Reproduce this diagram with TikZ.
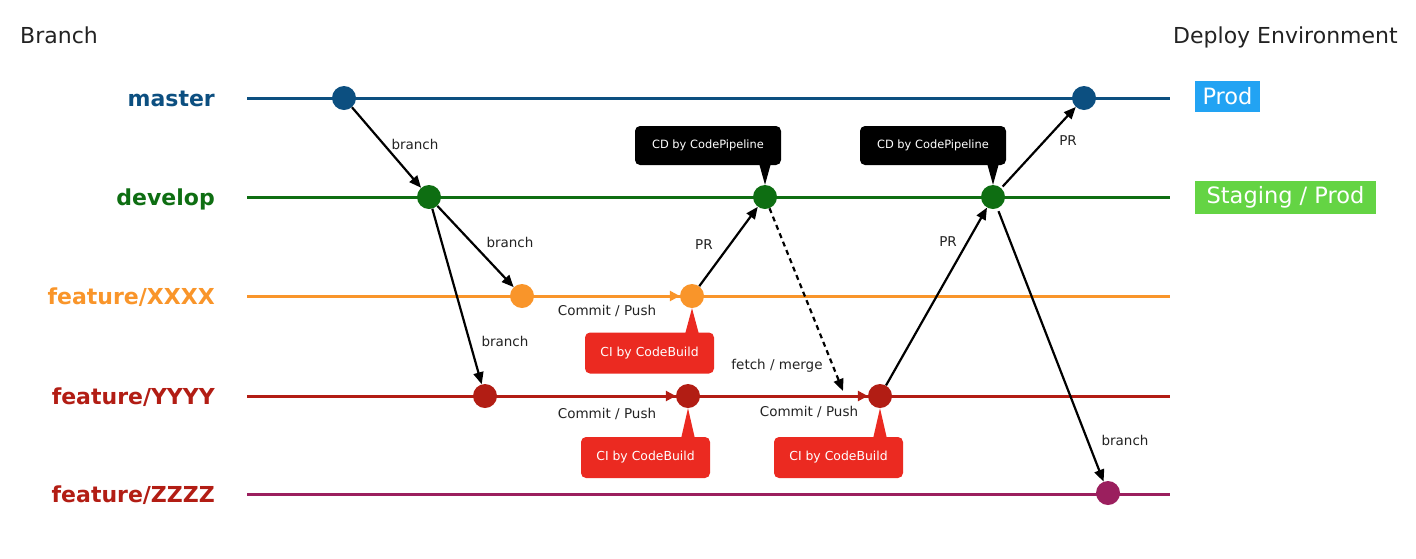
\documentclass[tikz,border=0pt]{standalone}
\usepackage{fontspec}
\setmainfont{DejaVu Sans}
\usetikzlibrary{arrows.meta,backgrounds,calc}
\definecolor{cmaster}{HTML}{0C4F80}
\definecolor{cdevelop}{HTML}{0E6E12}
\definecolor{cfeatx}{HTML}{F9952A}
\definecolor{cfeaty}{HTML}{B21D14}
\definecolor{cfeatz}{HTML}{9B1F5E}
\definecolor{cired}{HTML}{EB2A21}
\definecolor{prodblue}{HTML}{22A3F3}
\definecolor{stgreen}{HTML}{64D444}
\definecolor{labgray}{HTML}{222222}
\begin{document}
\begin{tikzpicture}[x=1pt,y=-1pt,
  commit/.style={circle,inner sep=0pt,minimum size=24pt},
  blab/.style={font=\bfseries\fontsize{22}{22}\selectfont,anchor=base east,inner sep=0pt},
  elab/.style={font=\fontsize{13.5}{13.5}\selectfont,text=labgray},
  flow/.style={line width=2.2pt,-{Triangle[length=12pt,width=10pt]}},
  bline/.style={line width=3pt},
  ctip/.style={-{Triangle[length=10pt,width=10pt]}},
  cdbox/.style={fill=black,rounded corners=5pt,text=white,font=\fontsize{11.4}{11.4}\selectfont,minimum width=146pt,minimum height=39pt,inner sep=0pt},
  cibox/.style={fill=cired,rounded corners=5pt,text=white,font=\fontsize{12.4}{12.4}\selectfont,minimum width=129pt,minimum height=41pt,inner sep=0pt},
  envbox/.style={text=white,font=\fontsize{22.5}{22.5}\selectfont,inner sep=0pt},
  head/.style={font=\fontsize{22}{22}\selectfont,text=labgray,anchor=base west,inner sep=0pt}]
\useasboundingbox (0,0) rectangle (1416,558);

% headings
\node[head] (hbranch) at (20,43) {Branch};
\node[head] (henv) at (1173,43) {Deploy Environment};

% branch labels
\node[blab,text=cmaster] (lmaster) at (215,106) {master};
\node[blab,text=cdevelop] (ldevelop) at (215,205) {develop};
\node[blab,text=cfeatx] (lx) at (215,304) {feature/XXXX};
\node[blab,text=cfeaty] (ly) at (215,404) {feature/YYYY};
\node[blab,text=cfeaty] (lz) at (215,502) {feature/ZZZZ};

% line ends
\coordinate (ms) at (247,98);  \coordinate (me) at (1170,98);
\coordinate (ds) at (247,197); \coordinate (de) at (1170,197);
\coordinate (xs) at (247,296); \coordinate (xe) at (1170,296);
\coordinate (ys) at (247,396); \coordinate (ye) at (1170,396);
\coordinate (zs) at (247,494); \coordinate (ze) at (1170,494);

% commits
\node[commit,fill=cmaster] (M1) at (344,98) {};
\node[commit,fill=cmaster] (M2) at (1084,98) {};
\node[commit,fill=cdevelop] (D1) at (429,197) {};
\node[commit,fill=cdevelop] (D2) at (765,197) {};
\node[commit,fill=cdevelop] (D3) at (993,197) {};
\node[commit,fill=cfeatx] (X1) at (522,296) {};
\node[commit,fill=cfeatx] (X2) at (692,296) {};
\node[commit,fill=cfeaty] (Y1) at (485,396) {};
\node[commit,fill=cfeaty] (Y2) at (688,396) {};
\node[commit,fill=cfeaty] (Y3) at (880,396) {};
\node[commit,fill=cfeatz] (Z1) at (1108,493) {};

% environment boxes
\node[envbox,fill=prodblue,minimum width=65pt,minimum height=31pt] (eprod) at (1227.5,96.5) {Prod};
\node[envbox,fill=stgreen,minimum width=181pt,minimum height=33pt] (estage) at (1285.5,197.5) {Staging / Prod};

% callouts
\node[cdbox] (cd1) at (708,145.5) {CD by CodePipeline};
\node[cdbox] (cd2) at (933,145.5) {CD by CodePipeline};
\node[cibox] (ci1) at (649.5,353) {CI by CodeBuild};
\node[cibox] (ci2) at (645.5,457.5) {CI by CodeBuild};
\node[cibox] (ci3) at (838.5,457.5) {CI by CodeBuild};

\begin{pgfonlayer}{background}
  \draw[bline,cmaster] (ms) -- (me);
  \draw[bline,cdevelop] (ds) -- (de);
  \draw[bline,cfeatx] (xs) -- (xe);
  \draw[bline,cfeaty] (ys) -- (ye);
  \draw[bline,cfeatz] (zs) -- (ze);
  \fill[black] ($(cd1.south -| D2)+(-6,-2)$) -- (D2.north) -- ($(cd1.south -| D2)+(6,-2)$) -- cycle;
  \fill[black] ($(cd2.south -| D3)+(-6,-2)$) -- (D3.north) -- ($(cd2.south -| D3)+(6,-2)$) -- cycle;
  \fill[cired] ($(ci1.north -| X2)+(-7,2)$) -- (X2.south) -- ($(ci1.north -| X2)+(7,2)$) -- cycle;
  \fill[cired] ($(ci2.north -| Y2)+(-7,2)$) -- (Y2.south) -- ($(ci2.north -| Y2)+(7,2)$) -- cycle;
  \fill[cired] ($(ci3.north -| Y3)+(-7,2)$) -- (Y3.south) -- ($(ci3.north -| Y3)+(7,2)$) -- cycle;
\end{pgfonlayer}

% commit / push arrows along branches
\draw[bline,cfeatx,ctip] (X1) -- (X2);
\draw[bline,cfeaty,ctip] (Y1) -- (Y2);
\draw[bline,cfeaty,ctip] (Y2) -- (Y3);

% connectors
\coordinate (fm) at (843,391);
\draw[flow] (M1) -- (D1);
\draw[flow] (D1) -- (X1);
\draw[flow] (D1) -- (Y1);
\draw[flow] (X2) -- (D2);
\draw[flow,dash pattern=on 5pt off 4pt] (D2) -- (fm);
\draw[flow] (Y3) -- (D3);
\draw[flow,shorten <=2pt] (D3) -- (M2);
\draw[flow,shorten <=3pt] (D3) -- (Z1);

% edge labels
\node[elab] (t1) at (415,144) {branch};
\node[elab] (t2) at (510,242) {branch};
\node[elab] (t3) at (505,341) {branch};
\node[elab] (t4) at (704,245) {PR};
\node[elab] (t5) at (777,366) {fetch / merge};
\node[elab] (t6) at (948,242) {PR};
\node[elab] (t7) at (1068,141) {PR};
\node[elab] (t8) at (1125,440) {branch};
\node[elab] (c1) at (607,311) {Commit / Push};
\node[elab] (c2) at (607,414) {Commit / Push};
\node[elab] (c3) at (809,412) {Commit / Push};
\end{tikzpicture}
\end{document}
